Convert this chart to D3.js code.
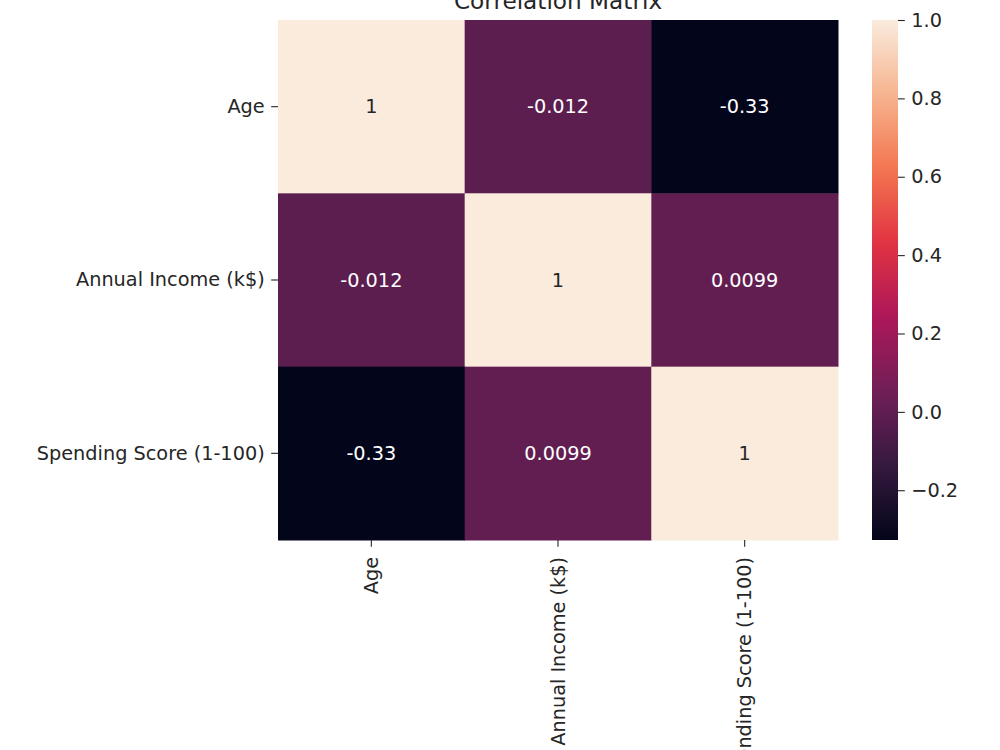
<!DOCTYPE html>
<html><head><meta charset="utf-8">
<script src="https://cdn.jsdelivr.net/npm/d3@7"></script>
<style>body{margin:0;background:#fff}svg{display:block}text{font-family:"DejaVu Sans",sans-serif;fill:#262626}</style>
</head><body><svg id="c" width="1000" height="750"></svg>
<script>
const labels = ["Age", "Annual Income (k$)", "Spending Score (1-100)"];
const matrix = [
  [1, -0.012, -0.327],
  [-0.012, 1, 0.0099],
  [-0.327, 0.0099, 1]
];
const annotations = [
  ["1", "-0.012", "-0.33"],
  ["-0.012", "1", "0.0099"],
  ["-0.33", "0.0099", "1"]
];
const cbTicks = [1.0, 0.8, 0.6, 0.4, 0.2, 0.0, -0.2];
const title = "Correlation Matrix";
const rocketStops = ["#03051a","#35193e","#701f57","#ad1759","#e13342","#f37651","#f6b48f","#faebdd"];

const FS = "19.3px";
const svg = d3.select("#c");
const L = 278, R = 838, T = 20, B = 540;
const vmin = d3.min(matrix.flat()), vmax = d3.max(matrix.flat());
const rocket = d3.scaleLinear().domain(rocketStops.map((d,i)=>i/(rocketStops.length-1))).range(rocketStops).interpolate(d3.interpolateRgb);
const color = v => rocket((v - vmin) / (vmax - vmin));

const x = d3.scaleBand().domain(labels).range([L, R]);
const y = d3.scaleBand().domain(labels).range([T, B]);

const cells = [];
matrix.forEach((row,i)=>row.forEach((v,j)=>cells.push({r:labels[i],c:labels[j],v,t:annotations[i][j]})));
svg.append("g").selectAll("rect").data(cells).join("rect")
  .attr("x",d=>x(d.c)).attr("y",d=>y(d.r)).attr("width",x.bandwidth()+0.5).attr("height",y.bandwidth()+0.5)
  .attr("fill",d=>color(d.v));
svg.append("g").selectAll("text").data(cells).join("text")
  .attr("x",d=>x(d.c)+x.bandwidth()/2).attr("y",d=>y(d.r)+y.bandwidth()/2)
  .attr("text-anchor","middle").attr("dominant-baseline","central").attr("font-size",FS)
  .style("fill",d=>((d.v-vmin)/(vmax-vmin))>0.5?"#262626":"#ffffff").text(d=>d.t);

// y axis
const yAx = svg.append("g").attr("transform",`translate(${L},0)`)
  .call(d3.axisLeft(y).tickSize(6.8).tickPadding(6.5));
yAx.select(".domain").remove();
yAx.selectAll("line").attr("stroke","#262626").attr("stroke-width",1.1);
yAx.selectAll("text").attr("font-size",FS).attr("font-family","DejaVu Sans").style("fill","#262626");

// x axis
const xAx = svg.append("g").attr("transform",`translate(0,${B})`)
  .call(d3.axisBottom(x).tickSize(6.8).tickPadding(6.5));
xAx.select(".domain").remove();
xAx.selectAll("line").attr("stroke","#262626").attr("stroke-width",1.1);
xAx.selectAll("text").attr("font-size",FS).attr("font-family","DejaVu Sans").style("fill","#262626")
  .attr("transform","rotate(-90)").attr("text-anchor","end").attr("x",-17).attr("y",0).attr("dy","0.35em");

// colorbar
const cbL = 872, cbW = 26;
const cy = d3.scaleLinear().domain([vmin, vmax]).range([B, T]);
const defs = svg.append("defs");
const grad = defs.append("linearGradient").attr("id","cbg").attr("x1",0).attr("y1",1).attr("x2",0).attr("y2",0);
d3.range(0,1.0001,0.02).forEach(t=>grad.append("stop").attr("offset",t).attr("stop-color",rocket(t)));
svg.append("rect").attr("x",cbL).attr("y",T).attr("width",cbW).attr("height",B-T).attr("fill","url(#cbg)");
const cAx = svg.append("g").attr("transform",`translate(${cbL+cbW},0)`)
  .call(d3.axisRight(cy).tickValues(cbTicks).tickSize(6.8).tickPadding(6.5).tickFormat(d=>d3.format(".1f")(d).replace("-","\u2212")));
cAx.select(".domain").remove();
cAx.selectAll("line").attr("stroke","#262626").attr("stroke-width",1.1);
cAx.selectAll("text").attr("font-size",FS).attr("font-family","DejaVu Sans").style("fill","#262626");

// title
svg.append("text").attr("x",(L+R)/2).attr("y",9).attr("text-anchor","middle").attr("font-size","23.2px").text(title);
</script></body></html>
